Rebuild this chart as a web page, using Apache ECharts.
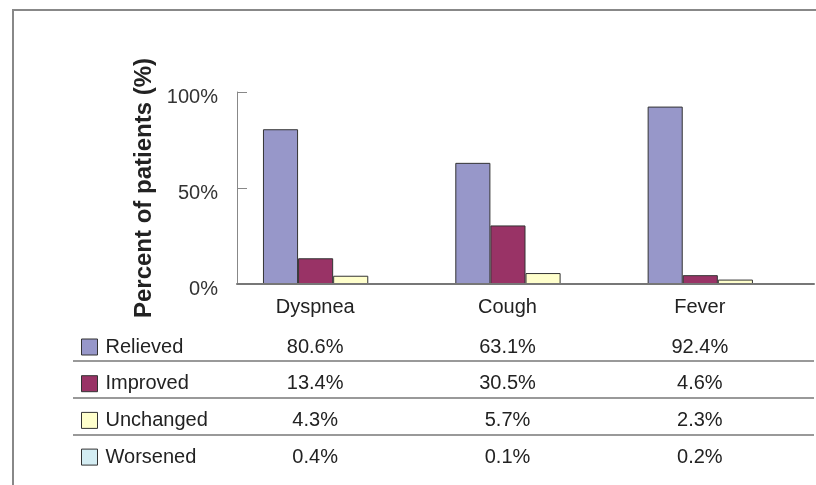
<!DOCTYPE html>
<html>
<head>
<meta charset="utf-8">
<script src="https://cdn.jsdelivr.net/npm/echarts@6/dist/echarts.min.js"></script>
<style>
    html, body { margin: 0; padding: 0; background: #fff; }
    #chart { width: 816px; height: 485px; }
</style>
</head>
<body>
<div id="chart"></div>
<script>
var categories = ['Dyspnea', 'Cough', 'Fever'];
var seriesNames = ['Relieved', 'Improved', 'Unchanged', 'Worsened'];
var relieved = [80.6, 63.1, 92.4];
var improved = [13.4, 30.5, 4.6];
var unchanged = [4.3, 5.7, 2.3];
var worsened = [0.4, 0.1, 0.2];
var yTicks = [0, 50, 100];

var colors = ['#9797c9', '#993366', '#ffffcc', '#d4edf3'];
var allValues = [relieved, improved, unchanged, worsened];
var fontFam = '"Liberation Sans", Arial, sans-serif';

// row centres of the table under the chart
var rowY = [347, 383, 420, 457];
var axisY = 284;

var chart = echarts.init(document.getElementById('chart'));

var xAxes = [{
    type: 'category',
    data: categories,
    position: 'bottom',
    z: 5,
    axisLine: { lineStyle: { color: '#777', width: 2 } },
    axisTick: { show: false },
    axisLabel: {
        margin: 23,
        verticalAlign: 'middle',
        padding: [0, 36, 0, 0],
        color: '#222',
        fontSize: 20,
        fontFamily: fontFam
    }
}];

// one hidden axis per table row, so the values sit under their category
allValues.forEach(function (vals, r) {
    xAxes.push({
        type: 'category',
        data: categories,
        position: 'bottom',
        offset: rowY[r] - axisY,
        axisLine: { show: false },
        axisTick: { show: false },
        axisLabel: {
            margin: 0,
            verticalAlign: 'middle',
            padding: [0, 36, 0, 0],
            color: '#222',
            fontSize: 20,
            fontFamily: fontFam,
            formatter: function (v, i) {
                return vals[i].toFixed(1) + '%';
            }
        }
    });
});

var series = seriesNames.map(function (name, i) {
    return {
        name: name,
        type: 'bar',
        data: allValues[i],
        barGap: 0,
        barCategoryGap: '27%',
        itemStyle: {
            color: colors[i],
            borderColor: '#333',
            // the tiny worsened bars barely show in the original
            borderWidth: i === 3 ? 0 : 1
        }
    };
});

var legendData = seriesNames.map(function (name) {
    return { name: name, itemStyle: { borderColor: '#333', borderWidth: 1 } };
});

var sepLines = [];
for (var k = 0; k < 3; k++) {
    var y = Math.round((rowY[k] + rowY[k + 1]) / 2) - 4;
    sepLines.push({
        type: 'line',
        shape: { x1: 73, y1: y, x2: 814, y2: y },
        style: { stroke: '#777', lineWidth: 1.5 }
    });
}

option = {
    backgroundColor: '#fff',
    animation: false,
    grid: { left: 237, right: 2, top: 92, bottom: 485 - axisY },
    legend: {
        orient: 'vertical',
        left: 81,
        top: 337,
        height: 146,
        padding: 0,
        itemWidth: 16,
        itemHeight: 16,
        itemGap: 16.7,
        icon: 'rect',
        selectedMode: false,
        data: legendData,
        textStyle: {
            color: '#222',
            fontSize: 20,
            fontFamily: fontFam,
            padding: [0, 0, 0, 3]
        }
    },
    xAxis: xAxes,
    yAxis: {
        type: 'value',
        min: yTicks[0],
        max: yTicks[yTicks.length - 1],
        interval: 50,
        name: 'Percent of patients (%)',
        nameLocation: 'middle',
        nameGap: 78,
        nameTextStyle: {
            fontSize: 24,
            fontWeight: 'bold',
            color: '#222',
            fontFamily: fontFam
        },
        axisLine: { show: true, lineStyle: { color: '#888', width: 1 } },
        axisTick: { show: true, inside: true, length: 10, lineStyle: { color: '#888' } },
        splitLine: { show: false },
        axisLabel: {
            margin: 19,
            verticalAlign: 'top',
            lineHeight: 10,
            color: '#333',
            fontSize: 20,
            fontFamily: fontFam,
            formatter: '{value}%'
        }
    },
    graphic: [
        {
            type: 'polyline',
            shape: { points: [[13, 485], [13, 10], [816, 10]] },
            style: { stroke: '#888', lineWidth: 2, fill: null }
        }
    ].concat(sepLines),
    series: series
};

chart.setOption(option);
</script>
</body>
</html>
